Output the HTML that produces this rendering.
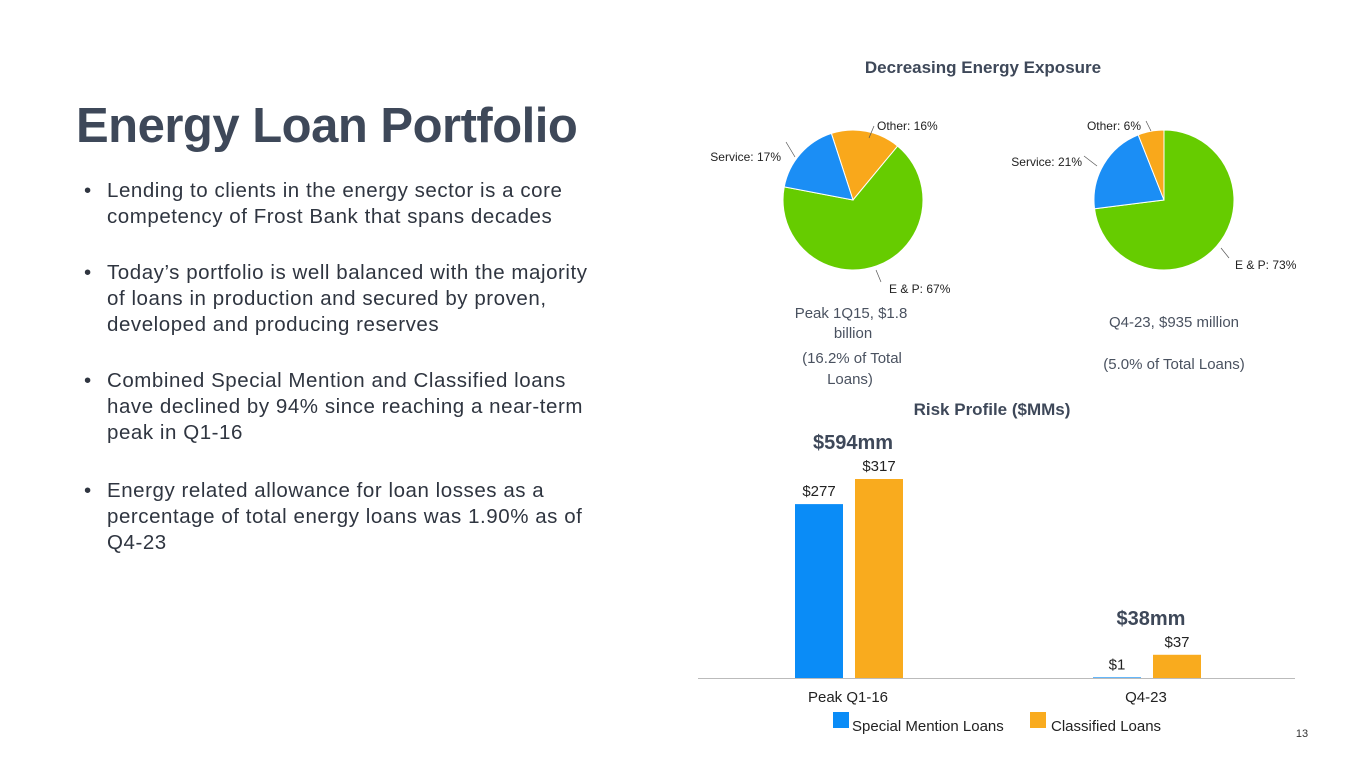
<!DOCTYPE html>
<html><head><meta charset="utf-8"><style>
body{margin:0;width:1365px;height:768px;background:#fff;font-family:"Liberation Sans",sans-serif;position:relative;overflow:hidden;color:#333a45}
#title{position:absolute;left:76px;top:98px;font-size:49px;font-weight:bold;color:#3e4859;letter-spacing:-0.5px;margin:0}
ul{position:absolute;left:84px;top:178px;margin:0;padding:0;list-style:none;width:600px}
li{position:relative;padding-left:23px;font-size:20.5px;letter-spacing:0.55px;line-height:26px;margin-bottom:30px;color:#2f3540;white-space:nowrap}
li:before{content:"•";position:absolute;left:0;top:0}
svg{position:absolute;left:0;top:0}
</style></head><body>
<h1 id="title">Energy Loan Portfolio</h1>
<ul>
<li>Lending to clients in the energy sector is a core<br>competency of Frost Bank that spans decades</li>
<li>Today’s portfolio is well balanced with the majority<br>of loans in production and secured by proven,<br>developed and producing reserves</li>
<li style="margin-bottom:32px">Combined Special Mention and Classified loans<br>have declined by 94% since reaching a near-term<br>peak in Q1-16</li>
<li>Energy related allowance for loan losses as a<br>percentage of total energy loans was 1.90% as of<br>Q4-23</li>
</ul>
<svg id="chart" width="1365" height="768" font-family="Liberation Sans, sans-serif"></svg>
<script>
const pieLabels=["Other","E & P","Service"];
const pieLeft=[16,67,17];
const pieRight=[0,73,21,6];
const pieRightLabels=["","E & P","Service","Other"];
const barCats=["Peak Q1-16","Q4-23"];
const specialMention=[277,1];
const classified=[317,37];
const totals=["$594mm","$38mm"];
const seriesNames=["Special Mention Loans","Classified Loans"];

const NS="http://www.w3.org/2000/svg";
const svg=document.getElementById('chart');
function mk(t,a,txt){const e=document.createElementNS(NS,t);for(const k in a)e.setAttribute(k,a[k]);if(txt!==undefined)e.textContent=txt;svg.appendChild(e);return e;}
const pieColors={"Other":"#f9a81b","E & P":"#66cc00","Service":"#1b8ef5"};

let t=mk('text',{x:983,y:73,'font-size':17,'font-weight':'bold',fill:'#3e4859','text-anchor':'middle'},'Decreasing Energy Exposure');



function pie(cx,cy,r,vals,labels,start,name){
  const tot=vals.reduce((a,b)=>a+b,0);let a0=start*2*Math.PI;
  vals.forEach((v,i)=>{
    if(v<=0)return;
    const a1=a0+v/tot*2*Math.PI;
    const x0=cx+r*Math.sin(a0),y0=cy-r*Math.cos(a0),x1=cx+r*Math.sin(a1),y1=cy-r*Math.cos(a1);
    const p=mk('path',{d:`M${cx},${cy}L${x0},${y0}A${r},${r} 0 ${a1-a0>Math.PI?1:0} 1 ${x1},${y1}Z`,fill:pieColors[labels[i]],stroke:'#fff','stroke-width':1});
    
    
    a0=a1;
  });
}
pie(853,200,70,pieLeft,pieLabels,-0.05,'pie-2015');
pie(1164,200,70,pieRight,pieRightLabels,0,'pie-2023');

function lbl(x,y,s,anchor,name){const e=mk('text',{x:x,y:y,'font-size':12,fill:'#222','text-anchor':anchor},s);

}
lbl(781,161,'Service: '+pieLeft[2]+'%','end','pie-2015-label-service');
lbl(877,130,'Other: '+pieLeft[0]+'%','start','pie-2015-label-other');
lbl(889,293,'E & P: '+pieLeft[1]+'%','start','pie-2015-label-ep');
lbl(1082,166,'Service: '+pieRight[2]+'%','end','pie-2023-label-service');
lbl(1141,130,'Other: '+pieRight[3]+'%','end','pie-2023-label-other');
lbl(1235,269,'E & P: '+pieRight[1]+'%','start','pie-2023-label-ep');
[[786,142,795,157],[874,126,869,138],[881,282,876,270],[1084,156,1097,166],[1146,121,1151,131],[1229,258,1221,248]].forEach(l=>{const e=mk('line',{x1:l[0],y1:l[1],x2:l[2],y2:l[3],stroke:'#555','stroke-width':0.7});

});

function cap(x,y,s,name){const e=mk('text',{x:x,y:y,'font-size':15,fill:'#4a5260','text-anchor':'middle'},s);

}
cap(851,318,'Peak 1Q15, $1.8','pie-2015-caption');cap(853,338,'billion','pie-2015-caption');
cap(852,363,'(16.2% of Total','pie-2015-caption');cap(850,384,'Loans)','pie-2015-caption');
cap(1174,327,'Q4-23, $935 million','pie-2023-caption');cap(1174,369,'(5.0% of Total Loans)','pie-2023-caption');

t=mk('text',{x:992,y:415,'font-size':17,'font-weight':'bold',fill:'#3e4859','text-anchor':'middle'},'Risk Profile ($MMs)');



const base=678,scale=199/317;
const y=v=>base-v*scale;
const catX=i=>849+i*298;
const bw=48,gap=12;
barCats.forEach((c,i)=>{
  const cx=catX(i);
  const x1=cx-gap/2-bw,x2=cx+gap/2;
  let b=mk('rect',{x:x1,y:y(specialMention[i]),width:bw,height:base-y(specialMention[i]),fill:'#0a8cf7'});
  
  
  b=mk('rect',{x:x2,y:y(classified[i]),width:bw,height:base-y(classified[i]),fill:'#f9ab1e'});
  
  
  let v=mk('text',{x:x1+bw/2,y:Math.min(y(specialMention[i])-8,base-6),'font-size':15,fill:'#222','text-anchor':'middle'},'$'+specialMention[i]);
  
  
  v=mk('text',{x:x2+bw/2,y:y(classified[i])-8,'font-size':15,fill:'#222','text-anchor':'middle'},'$'+classified[i]);
  
  
  v=mk('text',{x:cx+4,y:y(Math.max(specialMention[i],classified[i]))-30,'font-size':20,'font-weight':'bold',fill:'#3e4859','text-anchor':'middle'},totals[i]);
  
  
  v=mk('text',{x:cx-1,y:702,'font-size':15,fill:'#222','text-anchor':'middle'},c);
  
  
});
let ax=mk('line',{x1:698,y1:base+0.5,x2:1295,y2:base+0.5,stroke:'#bbb','stroke-width':1});



[[833,'#0a8cf7',852],[1030,'#f9ab1e',1051]].forEach((L,i)=>{
  let r=mk('rect',{x:L[0],y:712,width:16,height:16,fill:L[1]});
  
  
  let tx=mk('text',{x:L[2],y:731,'font-size':15,fill:'#222'},seriesNames[i]);
  
  
});
t=mk('text',{x:1302,y:737,'font-size':11,fill:'#333','text-anchor':'middle'},'13');


</script>
</body></html>
